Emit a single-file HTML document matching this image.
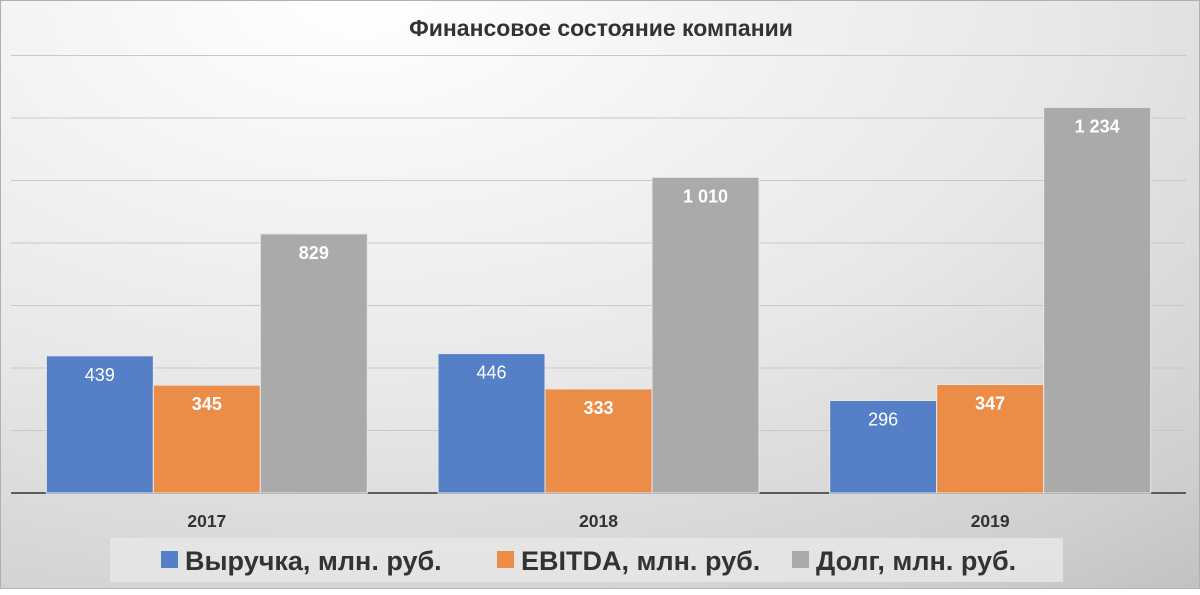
<!DOCTYPE html>
<html><head><meta charset="utf-8"><style>
html,body{margin:0;padding:0;}
body{width:1200px;height:589px;overflow:hidden;font-family:"Liberation Sans","DejaVu Sans",sans-serif;}
#chart{position:absolute;left:0;top:0;width:1198px;height:587px;border:1px solid #b0b0b0;background:radial-gradient(ellipse 130% 150% at 30% 0%,#ffffff 0%,#e8e8e8 45%,#cfcfcf 75%,#b0b0b0 100%);}
</style></head><body>
<div id="chart">
<svg id="svg" width="1200" height="589">
<text x="600" y="35" text-anchor="middle" font-size="23" font-weight="bold" fill="#333">Финансовое состояние компании</text>
<rect x="109" y="537" width="953" height="44" fill="#e6e6e6" opacity="0.85"/>
<g id="grid"></g><g id="bars"></g><g id="labels"></g><g id="legend"></g>
</svg>
</div>
<script>
const categories = ["2017","2018","2019"];
const revenue = [439, 446, 296];
const ebitda = [345, 333, 347];
const debt = [829, 1010, 1234];
const valueLabels = [["439","446","296"],["345","333","347"],["829","1 010","1 234"]];
const gridTicks = [200,400,600,800,1000,1200,1400];
const seriesNames = ["Выручка, млн. руб.","EBITDA, млн. руб.","Долг, млн. руб."];

const NS="http://www.w3.org/2000/svg";
const X0=10, X1=1185, Y0=492, PX=0.3125;
const y = v => Y0 - v*PX;
const catW=(X1-X0)/categories.length, barW=107;
const xBar=(c,s)=> X0 + c*catW + (catW-3*barW)/2 + s*barW;
function mk(tag,attrs,parent){const e=document.createElementNS(NS,tag);for(const k in attrs)e.setAttribute(k,attrs[k]);parent.appendChild(e);return e;}
const grid=document.getElementById('grid'), bars=document.getElementById('bars'), labels=document.getElementById('labels'), legend=document.getElementById('legend');
gridTicks.forEach(t=>{
  const l=mk('line',{x1:X0,x2:X1,y1:y(t),y2:y(t),stroke:'#c8c8c8','stroke-width':1},grid);
  
  
});
const series=[revenue,ebitda,debt];
const colors=['#5580c8','#eb8c47','#aaaaaa'];
const names=['revenue','ebitda','debt'];
series.forEach((arr,s)=>{
  arr.forEach((v,c)=>{
    const r=mk('rect',{x:xBar(c,s),y:y(v),width:barW,height:Y0-y(v),fill:colors[s],stroke:'#e8e8e8','stroke-width':1},bars);
    
    
    const t=mk('text',{x:xBar(c,s)+barW/2,y:y(v)+25,'text-anchor':'middle','font-size':18,fill:'#fff','font-weight':s===0?'normal':'bold'},labels);
    t.textContent=valueLabels[s][c];
    
    
  });
});
const ax=mk('line',{x1:X0,x2:X1,y1:Y0,y2:Y0,stroke:'#333','stroke-width':1.5},grid);


categories.forEach((c,i)=>{
  const t=mk('text',{x:X0+catW*(i+0.5),y:526,'text-anchor':'middle','font-size':17.5,'font-weight':'bold',fill:'#333'},labels);
  t.textContent=c;
  
  
});
const legX=[160,496,791];
seriesNames.forEach((n,i)=>{
  const g=mk('g',{},legend);
  
  
  mk('rect',{x:legX[i],y:550,width:17,height:17,fill:colors[i]},g);
  const t=mk('text',{x:legX[i]+24,y:569,'font-size':27,'font-weight':'bold',fill:'#333'},g);
  t.textContent=n;
});
</script>
</body></html>
